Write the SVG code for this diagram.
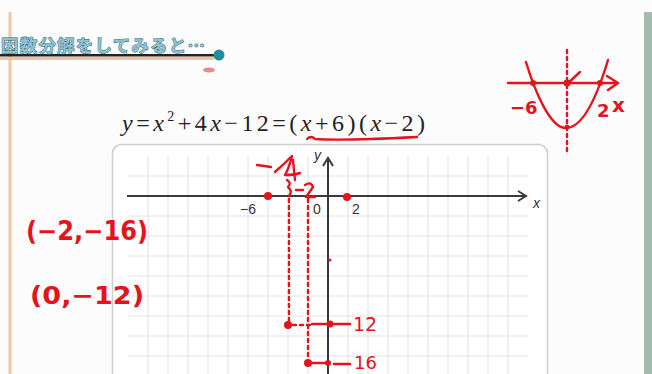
<svg xmlns="http://www.w3.org/2000/svg" width="652" height="374" viewBox="0 0 652 374">
<defs>
<style>
.hw{fill:none;stroke:#e3141c;stroke-width:2.4;stroke-linecap:round;stroke-linejoin:round}
.hwt{fill:#e3141c;font-family:"DejaVu Sans",sans-serif}
.dot{fill:#e3141c}
.dotted{fill:none;stroke:#e3141c;stroke-width:2.4;stroke-dasharray:3 4;stroke-linecap:round}
.grid{stroke:#e4e4e4;stroke-width:1.2}
.axis{stroke:#3a3a3a;stroke-width:2;fill:none}
.lbl{font-family:"Liberation Sans",sans-serif;font-size:14px;fill:#333}
</style>
</defs>
<rect width="652" height="374" fill="#fcfcfc"/>
<g id="frame">
<rect x="8.5" y="12" width="3" height="362" fill="#f0c7a2"/>
<rect x="644" y="12" width="8" height="362" fill="#a4bcae"/>
</g>
<g id="title">
<rect x="0" y="57" width="214" height="3" fill="#f2c2a0"/>
<rect x="0" y="54" width="216" height="2.5" fill="#222"/>
<circle cx="219" cy="55" r="5.5" fill="#1f8ea0"/>
<ellipse cx="209" cy="70" rx="6" ry="2.5" fill="#e88b8b"/>
<text x="1" y="52" font-family="'Noto Sans CJK JP',sans-serif" font-weight="bold" font-size="17.5" letter-spacing="1.2" fill="#8cc3d4" stroke="#2c5a68" stroke-width="0.9" paint-order="stroke">因数分解をしてみると…</text>
</g>
<g id="equation">
<text x="122" y="131" font-family="'Liberation Serif',serif" font-size="24" fill="#222" textLength="303" lengthAdjust="spacing"><tspan font-style="italic">y</tspan>=<tspan font-style="italic">x</tspan><tspan dy="-10" font-size="14">2</tspan><tspan dy="10">+4</tspan><tspan font-style="italic">x</tspan>−12=(<tspan font-style="italic">x</tspan>+6)(<tspan font-style="italic">x</tspan>−2)</text>
<path class="hw" d="M307,139 Q311,135 315,139 Q340,141 417,137" stroke-width="2"/>
</g>
<g id="graph">
<rect x="112.5" y="144.5" width="435" height="250" rx="9" fill="#ffffff" stroke="#cfcfcf" stroke-width="1.5"/>
<g id="gridlines">
<path class="grid" d="M148,156V374M168,156V374M188,156V374M208,156V374M228,156V374M248,156V374M268,156V374M288,156V374M308,156V374M348,156V374M368,156V374M388,156V374M408,156V374M428,156V374M448,156V374M468,156V374M488,156V374M508,156V374"/>
<path class="grid" d="M128,176H528M128,216H528M128,236H528M128,256H528M128,276H528M128,296H528M128,316H528M128,336H528M128,356H528"/>
</g>
<g id="axes">
<path class="axis" d="M127,196H525"/>
<path class="axis" d="M518,191L526,196L518,201"/>
<path class="axis" d="M328,374V159"/>
<path class="axis" d="M323,166L328,158L333,166"/>
<text class="lbl" x="533" y="208" font-family="'Liberation Serif',serif" font-style="italic" font-size="16">x</text>
<text class="lbl" x="314" y="160" font-family="'Liberation Serif',serif" font-style="italic" font-size="14">y</text>
<text class="lbl" x="240" y="214">−6</text>
<text class="lbl" x="313" y="214">0</text>
<text class="lbl" x="352" y="214">2</text>
</g>
</g>
<g id="handwriting-graph">
<circle class="dot" cx="268" cy="196" r="4"/>
<circle class="dot" cx="347" cy="197" r="4"/>
<path class="hw" d="M257,165 L271,167 M275,172 Q284,164 292,156 Q289,168 285,175 Q294,175 300,173 M293,160 Q294,171 295,180" stroke-width="2.8"/>
<path class="hw" d="M287,180 Q292,183 288,187 Q293,191 289,196 M296,190 L303,190 M305,185 Q311,181 313,187 Q309,193 306,197 L315,197" stroke-width="2.2"/>
<path class="dotted" d="M289,199 V322"/>
<path class="dotted" d="M308,199 V360"/>
<circle class="dot" cx="288" cy="325" r="4"/>
<path class="dotted" d="M293,325 H312"/>
<path class="hw" d="M312,324 H350"/>
<circle class="dot" cx="330" cy="324" r="3.5"/>
<text class="hwt" x="353" y="331" font-size="19">12</text>
<circle class="dot" cx="308" cy="363" r="4"/>
<path class="hw" d="M310,363 H328"/>
<circle class="dot" cx="328" cy="363" r="3"/>
<path class="hw" d="M334,364 H350"/>
<text class="hwt" x="354" y="369" font-size="18">16</text>
<circle class="dot" cx="330" cy="260" r="1.5"/>
</g>
<g id="handwriting-left">
<text class="hwt" x="26" y="240" font-size="26" font-weight="bold" textLength="122" lengthAdjust="spacingAndGlyphs">(−2,−16)</text>
<text class="hwt" x="30" y="304" font-size="25" font-weight="bold" textLength="114" lengthAdjust="spacingAndGlyphs">(0,−12)</text>
</g>
<g id="sketch">
<path class="hw" d="M508,83 H617 M607,76 L618,83 L608,90"/>
<path class="dotted" d="M567,50 V153"/>
<path class="hw" d="M526,62 C535,92 550,127 565,128 C582,129 596,100 608,60"/>
<path class="hw" d="M567,84 L580,72"/>
<circle class="dot" cx="533" cy="83" r="3"/>
<circle class="dot" cx="567" cy="83" r="3.5"/>
<circle class="dot" cx="600" cy="83" r="3"/>
<circle class="dot" cx="567" cy="127" r="2.5"/>
<text class="hwt" x="510" y="114" font-size="18" font-weight="bold">−6</text>
<text class="hwt" x="597" y="117" font-size="18" font-weight="bold">2</text>
<text class="hwt" x="612" y="112" font-size="20" font-weight="bold">x</text>
</g>
</svg>
